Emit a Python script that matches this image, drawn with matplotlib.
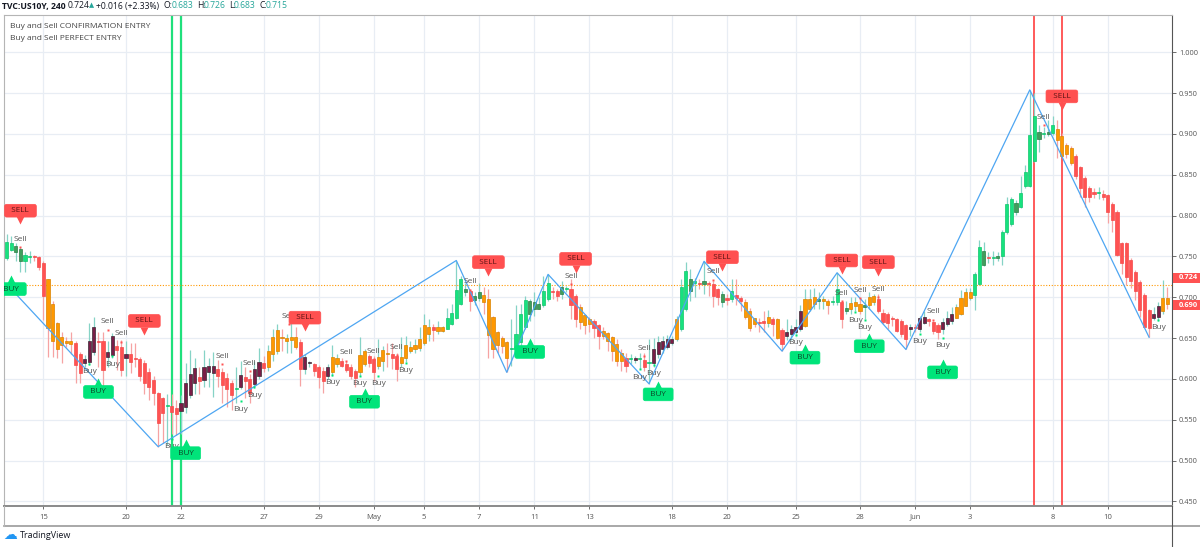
import numpy as np
import matplotlib
matplotlib.use("Agg")
import matplotlib.pyplot as plt
from matplotlib import transforms
from matplotlib.lines import Line2D
from matplotlib.patches import Rectangle

plt.rcParams['font.family'] = ['Open Sans', 'DejaVu Sans']

# ---------------- data (4h bars, TVC:US10Y) ----------------
opens = [.748,.758,.756,.745,.745,.749,.750,.749,.742,.722,.692,.668,.651,.647,.646,.644,.631,.619,.621,.633,
         .647,.647,.627,.629,.640,.639,.626,.630,.625,.624,.620,.608,.599,.583,.576,.567,.567,.564,.561,.566,
         .580,.595,.602,.599,.608,.607,.612,.609,.601,.595,.587,.590,.602,.600,.594,.603,.619,.614,.630,.634,
         .651,.647,.648,.651,.645,.612,.619,.618,.615,.610,.603,.608,.618,.622,.618,.615,.610,.608,.618,.628,
         .624,.616,.622,.631,.630,.628,.620,.625,.634,.636,.638,.644,.655,.663,.659,.659,.661,.667,.674,.692,
         .707,.708,.697,.699,.703,.698,.676,.657,.650,.645,.636,.636,.645,.663,.679,.685,.686,.690,.698,.708,
         .708,.704,.710,.710,.702,.688,.678,.673,.671,.666,.659,.656,.651,.643,.632,.626,.624,.623,.624,.623,
         .619,.619,.630,.636,.639,.644,.649,.661,.685,.708,.718,.718,.716,.718,.716,.710,.694,.699,.698,.703,
         .699,.694,.683,.674,.669,.671,.669,.673,.673,.660,.652,.655,.658,.661,.665,.685,.692,.696,.696,.695,
         .694,.694,.694,.683,.686,.689,.692,.688,.690,.694,.698,.681,.680,.674,.673,.671,.666,.661,.664,.661,
         .669,.673,.670,.666,.661,.667,.671,.675,.680,.689,.699,.703,.716,.740,.748,.748,.748,.750,.780,.790,
         .805,.811,.836,.836,.867,.894,.900,.900,.901,.906,.898,.887,.883,.873,.860,.846,.834,.828,.828,.827,
         .825,.814,.805,.766,.766,.746,.731,.719,.703,.684,.674,.676,.683,.699]
highs = [.778,.775,.766,.762,.756,.757,.752,.751,.744,.722,.695,.670,.658,.651,.657,.646,.633,.629,.668,.676,
         .658,.657,.646,.656,.648,.648,.646,.644,.644,.627,.623,.613,.603,.584,.578,.582,.582,.574,.580,.619,
         .635,.625,.615,.635,.625,.633,.623,.613,.607,.599,.615,.622,.614,.606,.622,.638,.628,.641,.661,.667,
         .661,.655,.681,.663,.649,.630,.622,.620,.617,.614,.618,.642,.630,.626,.622,.618,.612,.651,.636,.630,
         .628,.649,.640,.644,.644,.632,.651,.653,.647,.649,.663,.679,.673,.667,.671,.665,.687,.692,.745,.726,
         .718,.710,.706,.718,.712,.710,.677,.659,.653,.647,.673,.690,.692,.701,.698,.706,.700,.726,.728,.712,
         .710,.720,.714,.722,.704,.692,.679,.676,.673,.667,.663,.657,.653,.649,.636,.632,.630,.628,.632,.632,
         .649,.650,.653,.653,.654,.653,.677,.722,.743,.734,.724,.722,.744,.720,.720,.711,.708,.704,.722,.722,
         .702,.698,.687,.675,.674,.683,.684,.676,.675,.662,.673,.666,.673,.690,.710,.710,.711,.706,.702,.698,
         .702,.730,.696,.696,.700,.700,.698,.698,.706,.704,.704,.685,.682,.677,.675,.673,.667,.667,.667,.677,
         .683,.674,.671,.669,.675,.683,.688,.692,.709,.711,.711,.731,.770,.768,.755,.757,.756,.782,.823,.823,
         .819,.848,.862,.954,.950,.911,.909,.917,.922,.917,.901,.889,.885,.876,.861,.848,.836,.834,.835,.831,
         .827,.817,.807,.768,.768,.748,.733,.721,.705,.686,.688,.694,.721,.713]
lows = [.746,.757,.745,.731,.731,.742,.744,.733,.672,.627,.627,.625,.619,.639,.631,.595,.595,.615,.617,.629,
        .615,.588,.615,.625,.611,.603,.603,.607,.615,.597,.582,.574,.568,.517,.521,.519,.533,.531,.533,.558,
        .576,.582,.582,.590,.590,.578,.590,.570,.566,.562,.570,.588,.577,.571,.589,.600,.608,.610,.622,.630,
        .634,.632,.632,.636,.591,.606,.614,.604,.589,.583,.600,.604,.614,.614,.608,.600,.590,.604,.616,.614,
        .598,.612,.610,.614,.612,.598,.614,.621,.632,.632,.634,.641,.646,.646,.655,.657,.661,.666,.673,.690,
        .702,.683,.690,.696,.679,.626,.626,.632,.632,.608,.616,.634,.640,.661,.671,.677,.685,.688,.696,.698,
        .696,.698,.706,.673,.663,.661,.655,.657,.650,.636,.649,.634,.622,.616,.610,.608,.618,.620,.612,.610,
        .594,.614,.626,.632,.636,.641,.647,.659,.683,.696,.700,.710,.704,.702,.688,.690,.688,.690,.694,.690,
        .683,.673,.659,.663,.657,.657,.663,.652,.649,.634,.648,.648,.655,.659,.663,.683,.685,.685,.685,.679,
        .690,.690,.662,.680,.680,.683,.679,.673,.686,.690,.681,.667,.661,.665,.657,.651,.636,.653,.657,.657,
        .667,.665,.655,.649,.655,.665,.667,.674,.678,.689,.697,.684,.715,.738,.742,.740,.744,.740,.778,.787,
        .801,.809,.834,.835,.866,.878,.895,.897,.899,.870,.870,.870,.862,.845,.823,.811,.817,.821,.820,.819,
        .791,.780,.750,.729,.715,.711,.697,.676,.663,.651,.672,.671,.680,.686]
closes = [.768,.767,.763,.759,.752,.750,.749,.737,.701,.662,.646,.636,.642,.644,.643,.617,.607,.624,.646,.663,
          .645,.611,.633,.652,.635,.611,.630,.621,.624,.603,.595,.590,.583,.546,.558,.568,.560,.557,.571,.595,
          .606,.613,.597,.615,.616,.616,.603,.592,.588,.580,.588,.605,.598,.583,.612,.621,.613,.634,.651,.660,
          .650,.650,.651,.639,.612,.627,.621,.610,.602,.598,.615,.627,.626,.616,.611,.604,.601,.629,.634,.619,
          .608,.627,.635,.630,.625,.612,.627,.641,.639,.641,.649,.666,.664,.660,.663,.664,.674,.681,.709,.722,
          .710,.696,.702,.707,.694,.654,.636,.641,.640,.626,.637,.655,.679,.697,.696,.694,.692,.708,.718,.706,
          .701,.712,.710,.690,.673,.670,.666,.667,.662,.653,.652,.647,.634,.622,.622,.616,.626,.626,.625,.615,
          .619,.637,.645,.647,.649,.649,.673,.712,.732,.722,.718,.716,.720,.716,.702,.700,.704,.697,.708,.699,
          .696,.676,.662,.667,.668,.669,.676,.667,.650,.643,.657,.661,.664,.683,.698,.698,.700,.698,.698,.690,
          .694,.710,.673,.687,.693,.694,.683,.690,.700,.701,.683,.670,.669,.673,.659,.655,.649,.664,.662,.674,
          .676,.671,.659,.658,.670,.675,.679,.688,.699,.707,.707,.729,.762,.757,.748,.749,.751,.780,.814,.820,
          .816,.828,.853,.899,.922,.903,.900,.903,.911,.893,.873,.876,.865,.848,.834,.823,.823,.827,.828,.823,
          .804,.795,.752,.742,.725,.720,.708,.684,.664,.662,.679,.689,.699,.692]
# indicator state per bar (10 bars per chunk): g=strong up, d=weak up, r=down, o=pullback, m=counter-trend up
states = "".join([
    "ggddggrrro", "ooooorrmmm", "rrmmrrmrrr", "rrrrrgrrmm", "mmrmmmrrrr",
    "gmrrmmrooo", "oooormmrrr", "moorrrroor", "rooorroooo", "oooroogggg",
    "drddoooooo", "ggggdddggr", "rdgrrooorr", "ooooorgmgr", "gmmmmmoggd",
    "grdrrrdrgr", "rooorroror", "mmmmooodoo", "ggrdooodoo", "rrrrrrrmrm",
    "mrrrmmmooo", "oggdrgdggg", "dggggdgdgo", "ooorrrrrgr", "rrrrrrrrrr",
    "mmoo"])

tick_bars = [8, 26, 38, 56, 68, 80, 91, 103, 115, 127, 145, 157, 172, 186, 198, 210, 228, 240]
tick_labels = ["15", "20", "22", "27", "29", "May", "5", "7", "11", "13", "18", "20", "25", "28",
               "Jun", "3", "8", "10"]

zigzag_bars = [0, 33, 98, 109, 118, 140, 152, 169, 181, 196, 223, 249]
zigzag_vals = [0.716, 0.517, 0.745, 0.608, 0.728, 0.594, 0.744, 0.634, 0.730, 0.636, 0.954, 0.651]

sell_sig_bars = [3, 30, 65, 105, 124, 156, 182, 190, 230]
sell_sig_vals = [0.806, 0.671, 0.675, 0.743, 0.747, 0.749, 0.745, 0.743, 0.946]
buy_sig_bars = [1, 20, 39, 78, 114, 142, 174, 188, 204]
buy_sig_vals = [0.710, 0.584, 0.509, 0.572, 0.633, 0.581, 0.626, 0.640, 0.608]

sell_txt_bars = [3, 22, 25, 47, 53, 61.5, 74, 80, 85, 101, 123, 139, 154, 182, 186, 190, 202, 226]
sell_txt_vals = [0.771, 0.670, 0.655, 0.628, 0.619, 0.677, 0.632, 0.634, 0.639, 0.719, 0.726,
                 0.637, 0.731, 0.705, 0.708, 0.710, 0.682, 0.920]
buy_txt_bars = [18, 23, 36, 51, 54, 71, 77, 81, 87, 138, 141, 172, 185, 187, 199, 204, 251]
buy_txt_vals = [0.609, 0.618, 0.517, 0.563, 0.580, 0.595, 0.594, 0.594, 0.610, 0.602, 0.607,
                0.644, 0.672, 0.663, 0.646, 0.641, 0.663]

green_vlines = [36, 38]
red_vlines = [224, 230]
last_price = 0.715
price_labels = [0.724, 0.690]

# ---------------- figure ----------------
W, H = 1200, 547
fig = plt.figure(figsize=(W / 100, H / 100), dpi=100)
ax = fig.add_axes([4 / W, 41 / H, 1168 / W, 491 / H])
n = len(closes)
x = np.arange(n)
ax.set_xlim(-0.59, 254.0)
ax.set_ylim(0.4443, 1.0457)

# grid
yt = np.arange(0.45, 1.0001, 0.05)
for v in yt:
    ax.axhline(v, color='#e8edf4', lw=0.9, zorder=0)
for b in tick_bars:
    ax.axvline(b, color='#e8edf4', lw=0.9, zorder=0)

# vertical signal lines
for b in green_vlines:
    ax.axvline(b, color='#1fe07c', lw=1.6, zorder=1.5)
for b in red_vlines:
    ax.axvline(b, color='#ff4d4d', lw=1.3, zorder=1.5)

# candles
body_col = {'g': '#17e27f', 'd': '#3f9f5c', 'r': '#ff5252', 'o': '#ff9800', 'm': '#7a1d47'}
edge_col = {'g': '#10c56c', 'd': '#2b7d45', 'r': '#f44a4a', 'o': '#d98300', 'm': '#3a2934'}
o = np.array(opens); c = np.array(closes); h = np.array(highs); l = np.array(lows)
up = c >= o
wick_colors = ['#86d3c6' if u else '#f6a3a3' for u in up]
ax.vlines(x, l, h, colors=wick_colors, lw=0.9, zorder=2)
bottoms = np.minimum(o, c)
heights = np.maximum(np.abs(c - o), 0.0013)
ax.bar(x, heights, bottom=bottoms, width=0.68,
       color=[body_col[s] for s in states], edgecolor=[edge_col[s] for s in states],
       linewidth=0.5, zorder=3)

# zigzag
ax.plot(zigzag_bars, zigzag_vals, color='#4ea6f2', lw=0.9, zorder=4)

# last price dotted line
ax.axhline(last_price, color='#ff9800', lw=0.8, ls=(0, (1, 1.5)), zorder=2.5)

# small Buy / Sell texts with dots
for b, v in zip(sell_txt_bars, sell_txt_vals):
    ax.text(b, v, "Sell", ha='center', va='center', fontsize=6, color='#555555', zorder=5)
    tr = transforms.offset_copy(ax.transData, fig=fig, x=0, y=-5.6, units='points')
    ax.plot([b], [v], marker='s', ms=1.6, color='#ff5252', mec='none', transform=tr, zorder=5)
for b, v in zip(buy_txt_bars, buy_txt_vals):
    ax.text(b, v, "Buy", ha='center', va='center', fontsize=6, color='#555555', zorder=5)
    tr = transforms.offset_copy(ax.transData, fig=fig, x=0, y=5.6, units='points')
    ax.plot([b], [v], marker='s', ms=1.6, color='#00e676', mec='none', transform=tr, zorder=5)

# big SELL / BUY labels
def big_label(b, v, txt, bg, fg, pointer):
    ax.text(b, v, "  " + txt + "  ", ha='center', va='center', fontsize=5.9, color=fg,
            zorder=7, clip_on=True,
            bbox=dict(boxstyle='round,pad=0.35,rounding_size=0.25', fc=bg, ec=bg, lw=0.5))
    dy = -7.0 if pointer == 'v' else 7.0
    tr = transforms.offset_copy(ax.transData, fig=fig, x=0, y=dy, units='points')
    ax.plot([b], [v], marker=pointer, ms=5.5, color=bg, mec='none', transform=tr, zorder=6.9,
            clip_on=True)

for b, v in zip(sell_sig_bars, sell_sig_vals):
    big_label(b, v, "SELL", '#ff5050', '#5a1414', 'v')
for b, v in zip(buy_sig_bars, buy_sig_vals):
    big_label(b, v, "BUY", '#00e47a', '#0c4a2a', '^')

# axes styling
ax.yaxis.tick_right()
ax.set_yticks(yt)
ax.set_yticklabels([f"{v:.3f}" for v in yt])
ax.tick_params(axis='y', labelsize=5.3, colors='#555555', length=3, width=0.6, pad=2)
ax.set_xticks(tick_bars)
ax.set_xticklabels(tick_labels)
ax.tick_params(axis='x', labelsize=5.5, colors='#555555', length=2, width=0.6, pad=3.5)
for s in ['left', 'top']:
    ax.spines[s].set_color('#b5b5b5'); ax.spines[s].set_linewidth(0.8)
ax.spines['right'].set_color('#555555'); ax.spines['right'].set_linewidth(0.8)
ax.spines['bottom'].set_color('#8a8a8a'); ax.spines['bottom'].set_linewidth(1.4)

# price labels on right axis
btr = transforms.blended_transform_factory(ax.transAxes, ax.transData)
for pv in price_labels:
    ax.add_patch(Rectangle((1.0007, pv - 0.0062), 28 / 1168, 0.0124, transform=btr,
                           facecolor='#ff5252', edgecolor='none', clip_on=False, zorder=8))
    ax.text(1.0055, pv, f"{pv:.3f}", transform=btr, ha='left', va='center', fontsize=5.3,
            color='white', fontweight='bold', zorder=9, clip_on=False)

# frame around time axis
fig.add_artist(Line2D([4 / W, 1], [1 - 526 / H, 1 - 526 / H], color='#9a9a9a', lw=1.2))
fig.add_artist(Line2D([4 / W, 4 / W], [1 - 526 / H, 1 - 506 / H], color='#b5b5b5', lw=0.8))
fig.add_artist(Line2D([1172 / W, 1172 / W], [1 - 547 / H, 1 - 506 / H], color='#555555', lw=0.8))

# header
def ftext(px, py, s, **kw):
    fig.text(px / W, 1 - py / H, s, va='center', ha='left', **kw)

teal = '#26a69a'
dark = '#131722'
ftext(2, 6, "TVC:US10Y, 240", fontsize=6.2, fontweight='bold', color=dark)
ftext(68, 6, "0.724", fontsize=6.2, color=dark)
ftext(89, 6, "▲", fontsize=4.8, color=teal)
ftext(96, 6, "+0.016 (+2.33%)", fontsize=6.2, color=dark)
ftext(164, 6, "O:", fontsize=6.2, color=dark)
ftext(172, 6, "0.683", fontsize=6.2, color=teal)
ftext(197, 6, "H:", fontsize=6.2, color=dark)
ftext(204, 6, "0.726", fontsize=6.2, color=teal)
ftext(229, 6, "L:", fontsize=6.2, color=dark)
ftext(234, 6, "0.683", fontsize=6.2, color=teal)
ftext(259, 6, "C:", fontsize=6.2, color=dark)
ftext(266, 6, "0.715", fontsize=6.2, color=teal)

ftext(10, 26, "Buy and Sell CONFIRMATION ENTRY", fontsize=6, color='#444444')
ftext(10, 38, "Buy and Sell PERFECT ENTRY", fontsize=6, color='#444444')

# TradingView logo
ftext(3, 535, "☁", fontsize=10, color='#2196f3', family='DejaVu Sans')
ftext(20, 535, "TradingView", fontsize=6.5, color='#131722')

fig.savefig("out.png", dpi=100)
